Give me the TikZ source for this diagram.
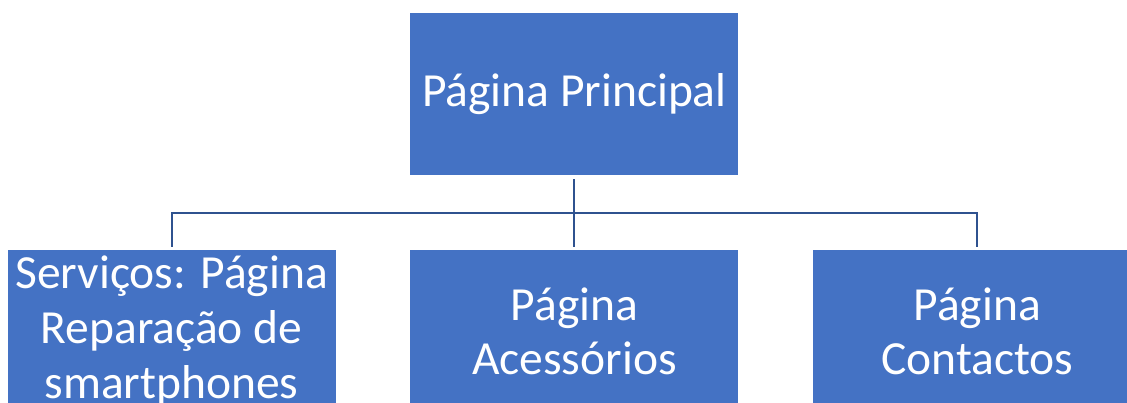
\documentclass[tikz,border=0pt]{standalone}
\usepackage{fontspec}
\setmainfont{Carlito}
\usetikzlibrary{positioning}
\usetikzlibrary{calc}
\definecolor{boxblue}{RGB}{68,114,196}
\definecolor{lineblue}{RGB}{47,82,143}

\begin{document}
\begin{tikzpicture}[
		pagebox/.style={draw=white, line width=0.6pt, fill=boxblue, text=white, align=center,
			minimum width=8.225cm, minimum height=4.075cm, inner sep=0pt,
			font=\fontsize{33.8}{39}\selectfont},
		link/.style={draw=lineblue, line width=1.5pt}]
		\useasboundingbox (0,0) rectangle (28.175,-10.075);

		% Top page
		\node[pagebox] (home) at (14.36, -2.36) {Página Principal};

		% Sub pages
		\node[pagebox, below=1.825cm of home] (acc) {Página\\Acessórios};
		\node[pagebox, left=1.825cm of acc] (serv) {Serviços: Página\\Reparação de\\smartphones};
		\node[pagebox, right=1.825cm of acc] (cont) {Página\\Contactos};

		% Links
		\coordinate (hub) at ($(home.south)!0.5!(acc.north)$);
		\draw[link] ([yshift=-2pt]home.south) -- ([yshift=2pt]acc.north);
		\draw[link] ([yshift=2pt]serv.north) |- (hub) -| ([yshift=2pt]cont.north);
	\end{tikzpicture}
\end{document}
